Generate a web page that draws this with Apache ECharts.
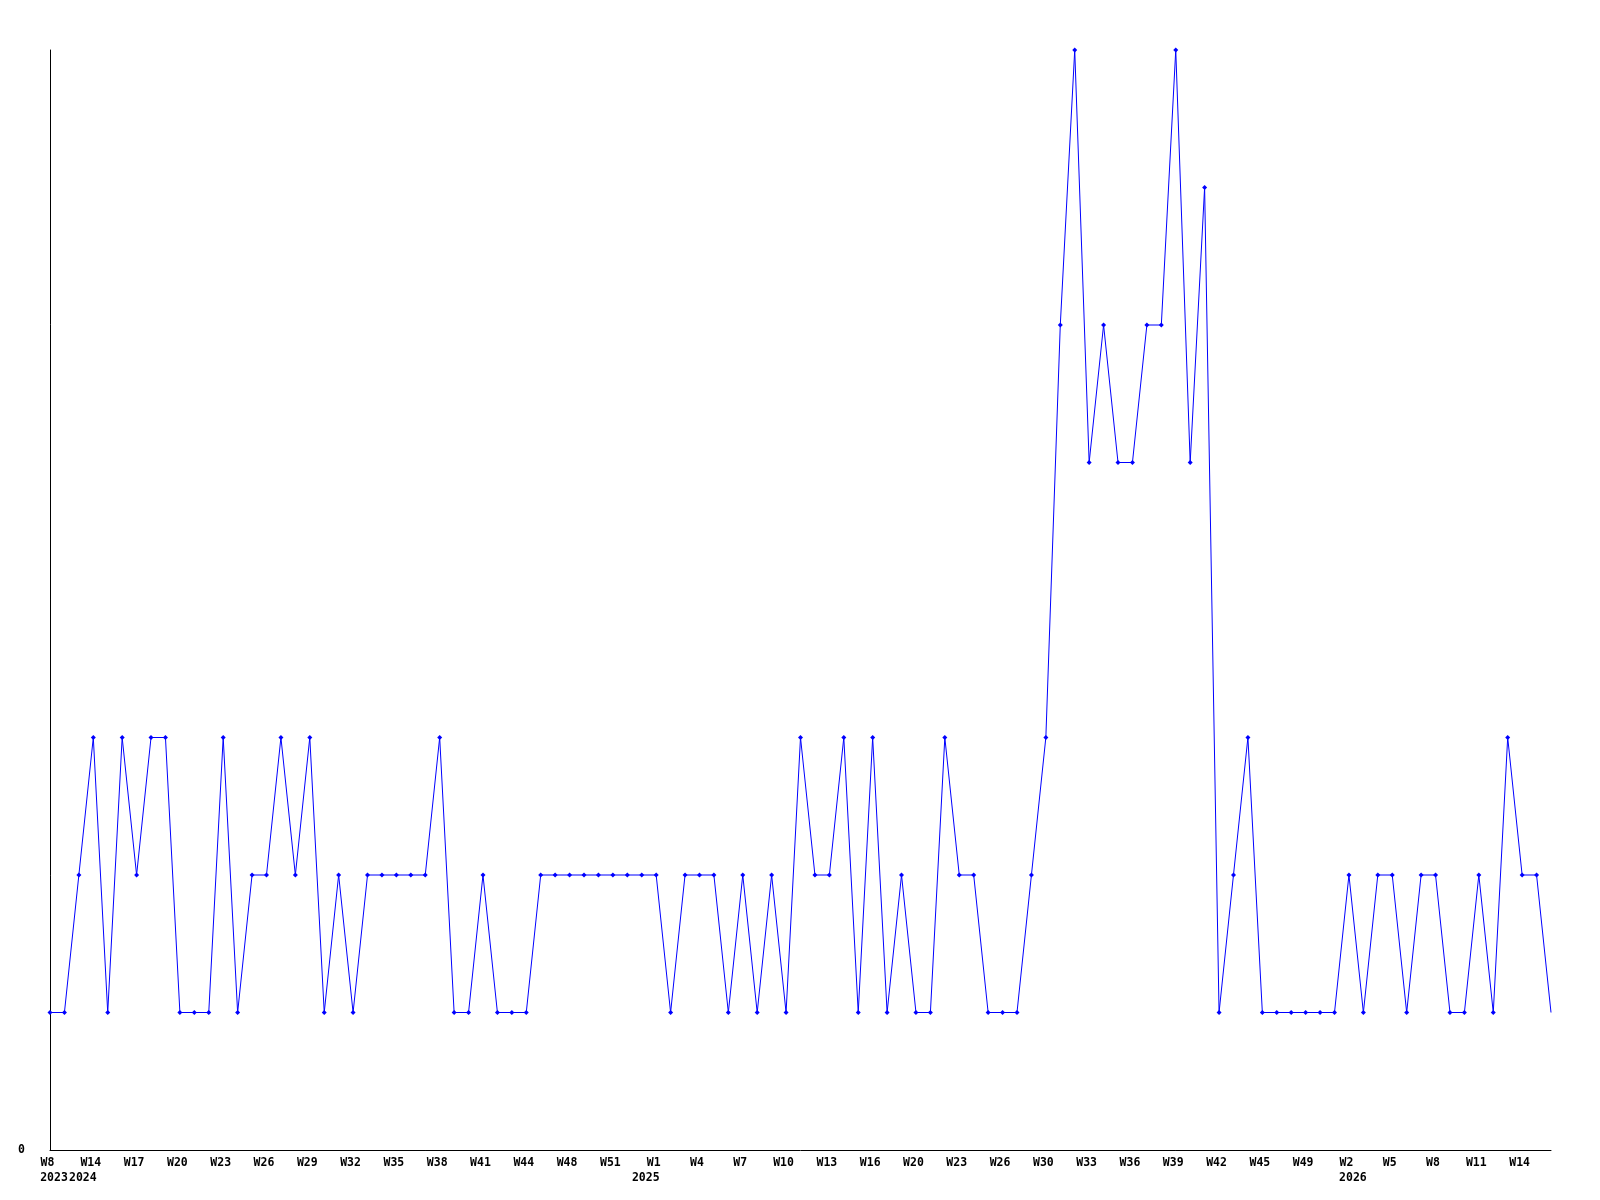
<!DOCTYPE html>
<html>
<head>
<meta charset="utf-8">
<script src="https://cdn.jsdelivr.net/npm/echarts@6/dist/echarts.min.js"></script>
<style>
  html, body { margin: 0; padding: 0; background: #ffffff; }
  #chart { width: 1600px; height: 1200px; }
</style>
</head>
<body>
<div id="chart"></div>
<script>
// Weekly counts, one per point (last point is the current, unmarked one)
const values = [
  1,1,2,3,1,3,2,3,3,1,
  1,1,3,1,2,2,3,2,3,1,
  2,1,2,2,2,2,2,3,1,1,
  2,1,1,1,2,2,2,2,2,2,
  2,2,2,1,2,2,2,1,2,1,
  2,1,3,2,2,3,1,3,1,2,
  1,1,3,2,2,1,1,1,2,3,
  6,8,5,6,5,5,6,6,8,5,
  7,1,2,3,1,1,1,1,1,1,
  2,1,2,2,1,2,2,1,1,2,
  1,3,2,2,1
];

// Week tick labels, one for every third point
const weekTickLabels = [
  'W8','W14','W17','W20','W23','W26','W29','W32','W35','W38','W41','W44',
  'W48','W51','W1','W4','W7','W10','W13','W16','W20','W23','W26','W30',
  'W33','W36','W39','W42','W45','W49','W2','W5','W8','W11','W14'
];
const weekTickStep = 3;

// Year labels keyed by point index
const yearLabelIndex = [0, 2, 41, 90];
const yearLabelText  = ['2023', '2024', '2025', '2026'];

// Y axis tick labels
const yTickValues = [0];
const yTickLabels = ['0'];

const categories = values.map((_, i) => String(i));
const seriesData = values.map((v, i) => i === values.length - 1 ? { value: v, symbol: 'none' } : v);

const font = '"DejaVu Sans Mono", "Liberation Mono", monospace';

const chart = echarts.init(document.getElementById('chart'), null, { renderer: 'canvas' });
chart.setOption({
  backgroundColor: '#ffffff',
  animation: false,
  grid: { left: 50, right: 49, top: 50, bottom: 50, containLabel: false },
  xAxis: [
    {
      type: 'category',
      data: categories,
      boundaryGap: false,
      position: 'bottom',
      axisLine: { show: true, lineStyle: { color: '#000000', width: 1 } },
      axisTick: { show: false },
      splitLine: { show: false },
      axisLabel: {
        interval: 0,
        margin: 7,
        color: '#000000',
        fontFamily: font,
        fontWeight: 'bold',
        fontSize: 11.5,
        align: 'center',
        padding: [0, 5, 0, 0],
        formatter: (val, idx) => (idx % weekTickStep === 0) ? (weekTickLabels[idx / weekTickStep] || '') : ''
      }
    },
    {
      type: 'category',
      data: categories,
      boundaryGap: false,
      position: 'bottom',
      offset: 15,
      axisLine: { show: false },
      axisTick: { show: false },
      splitLine: { show: false },
      axisLabel: {
        interval: 0,
        margin: 7,
        color: '#000000',
        fontFamily: font,
        fontWeight: 'bold',
        fontSize: 11.5,
        align: 'center',
        padding: [0, 0, 0, 8],
        formatter: (val, idx) => {
          const k = yearLabelIndex.indexOf(idx);
          return k >= 0 ? yearLabelText[k] : '';
        }
      }
    }
  ],
  yAxis: {
    type: 'value',
    min: 0,
    max: 8,
    interval: 1,
    axisLine: { show: true, lineStyle: { color: '#000000', width: 1 } },
    axisTick: { show: false },
    splitLine: { show: false },
    axisLabel: {
      margin: 25,
      color: '#000000',
      fontFamily: font,
      fontWeight: 'bold',
      fontSize: 11.5,
      formatter: (v) => {
        const k = yTickValues.indexOf(v);
        return k >= 0 ? yTickLabels[k] : '';
      }
    }
  },
  series: [
    {
      type: 'line',
      xAxisIndex: 0,
      data: seriesData,
      symbol: 'diamond',
      symbolSize: 5,
      showAllSymbol: true,
      lineStyle: { color: '#0000ff', width: 1 },
      itemStyle: { color: '#0000ff', borderWidth: 0 },
      emphasis: { disabled: true }
    }
  ]
});
</script>
</body>
</html>
